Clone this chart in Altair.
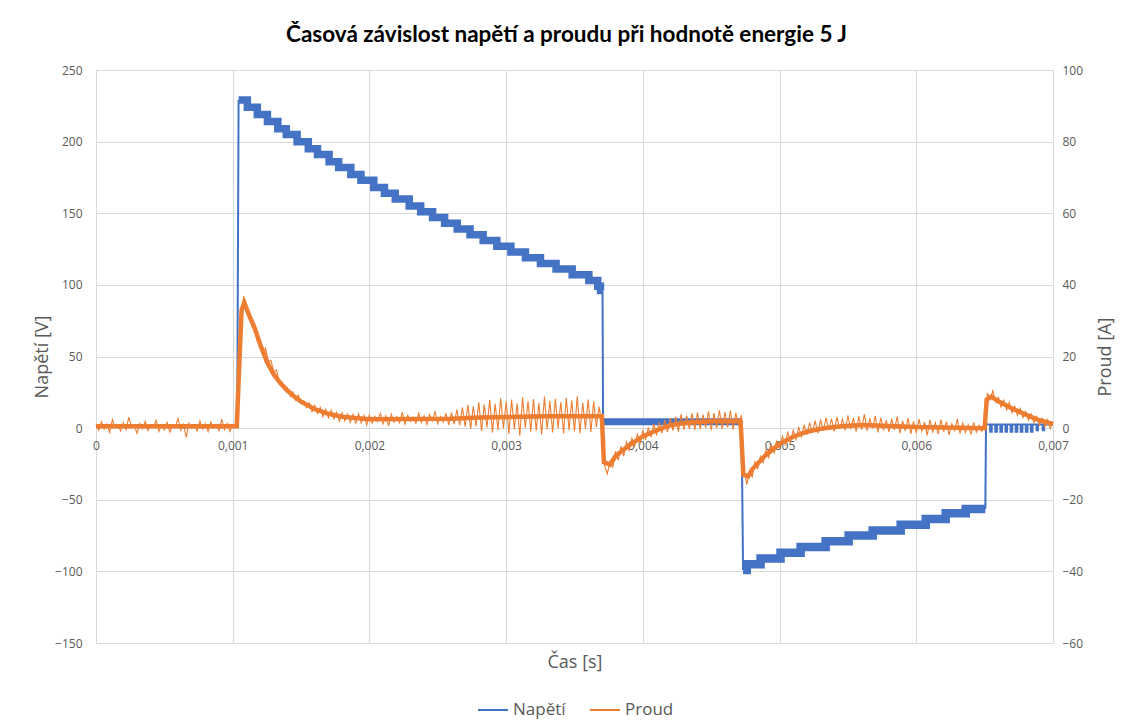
import altair as alt
import pandas as pd

TITLE = "Časová závislost napětí a proudu při hodnotě energie 5 J"
SERIES = ["Napětí", "Proud"]
COLORS = ["#4472C4", "#ED7D31"]
X_TICKS = [0, 0.001, 0.002, 0.003, 0.004, 0.005, 0.006, 0.007]
V_TICKS = [-150, -100, -50, 0, 50, 100, 150, 200, 250]
I_TICKS = [-60, -40, -20, 0, 20, 40, 60, 80, 100]

# ---- Napětí (voltage), times in ms, values in V ----
# thin (linear) pieces
BASE_T = [0.0, 0.64, 0.645, 0.655, 0.66, 1.033, 1.043]
BASE_V = [2.0, 2.0, 0.3, 0.3, 2.0, 2.0, 229.0]
DROP1_T = [3.705, 3.709]
DROP1_V = [96.0, 4.5]
DROP2_T = [4.722, 4.733]
DROP2_V = [4.5, -99.0]
RISE_T = [6.505, 6.510]
RISE_V = [-56.5, 2.5]
TAIL_T = [6.510,
          6.540, 6.540, 6.552, 6.552,
          6.578, 6.578, 6.590, 6.590,
          6.615, 6.615, 6.627, 6.627,
          6.652, 6.652, 6.664, 6.664,
          6.690, 6.690, 6.702, 6.702,
          6.727, 6.727, 6.739, 6.739,
          6.764, 6.764, 6.776, 6.776,
          6.801, 6.801, 6.813, 6.813,
          6.838, 6.838, 6.850, 6.850,
          6.880, 6.880, 6.890, 6.890,
          6.925, 6.925, 6.935, 6.935,
          7.000]
TAIL_V = [2.5,
          2.5, -2.5, -2.5, 2.5,
          2.5, -2.5, -2.5, 2.5,
          2.5, -2.5, -2.5, 2.5,
          2.5, -2.5, -2.5, 2.5,
          2.5, -2.5, -2.5, 2.5,
          2.5, -2.5, -2.5, 2.5,
          2.5, -2.5, -2.5, 2.5,
          2.5, -2.5, -2.5, 2.5,
          2.5, -2.5, -2.5, 2.5,
          2.5, -1.5, -1.5, 2.5,
          2.5, -1.5, -1.5, 2.5,
          2.5]
# thick (stepped) pieces
STAIR1_T = [1.043, 1.107, 1.180, 1.254, 1.330, 1.392, 1.471, 1.553, 1.620, 1.705,
            1.775, 1.864, 1.938, 2.032, 2.110, 2.189, 2.291, 2.375, 2.462, 2.550,
            2.642, 2.736, 2.832, 2.932, 3.035, 3.141, 3.251, 3.365, 3.483, 3.605,
            3.670, 3.690, 3.705]
STAIR1_V = [229, 224, 219, 214, 209, 205, 200, 195, 191, 186,
            182, 177, 173, 168, 164, 160, 155, 151, 147, 143,
            139, 135, 131, 127, 123, 119, 115, 111, 107, 103,
            99, 96, 96]
BAND_T = [3.709, 4.722]
BAND_V = [4.5, 4.5]
STAIR2_T = [4.733, 4.760, 4.861, 5.007, 5.154, 5.337, 5.505, 5.681, 5.886, 6.069,
            6.215, 6.362, 6.505]
STAIR2_V = [-99, -95, -91, -87, -83, -79, -75, -71.5, -67.5, -63.5,
            -59.5, -56.5, -56.5]

# ---- Proud (current) ----
# centre of the dense noise band (ms, A)
CORE_T = [0.0, 1.03, 1.045, 1.065, 1.085, 1.12, 1.16, 1.20, 1.25, 1.30,
          1.35, 1.40, 1.45, 1.50, 1.60, 1.70, 1.80, 1.90, 2.00, 2.60,
          2.80, 3.30, 3.700, 3.715, 3.76, 3.80, 3.90, 4.00, 4.10, 4.20,
          4.30, 4.50, 4.715, 4.735, 4.77, 4.80, 4.90, 5.00, 5.10, 5.20,
          5.30, 5.45, 5.60, 5.80, 6.00, 6.20, 6.500, 6.515, 6.55, 6.60,
          6.70, 6.80, 6.90, 7.00]
CORE_A = [0.5, 0.5, 15.0, 33.0, 35.0, 31.5, 28.0, 23.5, 18.5, 15.0,
          12.5, 10.5, 8.8, 7.4, 5.3, 4.0, 3.2, 2.8, 2.5, 2.6,
          3.0, 3.3, 3.3, -9.5, -10.2, -7.8, -4.8, -2.3, -0.6, 0.8,
          1.4, 1.9, 2.0, -13.0, -13.5, -11.5, -7.5, -4.4, -2.4, -1.0,
          -0.2, 0.5, 0.9, 0.6, 0.3, 0.2, 0.0, 8.0, 8.8, 7.5,
          5.5, 3.8, 2.2, 1.2]
# raw noisy samples, every 0.02 ms from 0 to 7 ms
CURRENT_STEP_MS = 0.02
CURRENT_A = [
    1.2, -0.6, 1.8, -0.3, 1.1, -1.2, 2.4, 0.2, 0.9, -0.8,
    1.5, -0.4, 3.1, 0.1, 0.7, -1.5, 1.3, -0.2, 1.9, -0.7,
    0.8, 0.3, 2.2, -0.9, 1.0, -0.5, 1.6, -1.1, 0.6, 0.4,
    2.7, -0.6, 1.1, -2.6, 1.4, -0.1, 0.9, -0.8, 2.0, -0.3,
    1.2, -1.0, 1.7, 0.0, 0.8, -0.7, 2.5, -0.4, 1.3, -0.9,
    0.9, 0.5, 13.0, 30.5, 36.8, 32.2, 32.0, 28.4, 27.6, 24.3,
    23.8, 20.6, 22.3, 18.7, 18.9, 15.8, 16.2, 13.1, 12.9, 10.6,
    11.3, 8.9, 10.1, 7.8, 9.2, 6.9, 7.6, 5.7, 7.1, 4.6,
    6.4, 4.1, 5.8, 3.2, 5.3, 2.9, 5.0, 2.6, 4.4, 1.9,
    4.3, 2.0, 3.9, 1.6, 3.8, 1.4, 4.0, 1.5, 3.5, 0.9,
    3.7, 1.4, 3.3, 1.8, 4.1, 1.2, 3.4, 0.6, 3.9, 1.7,
    3.2, 1.5, 4.4, 1.1, 3.6, 1.9, 3.0, 1.3, 4.2, 1.6,
    3.5, 1.0, 3.8, 2.0, 4.6, 1.2, 3.3, 1.7, 4.0, 0.9,
    4.3, 1.1, 5.2, 0.8, 5.8, 0.4, 6.5, -0.2, 6.1, 0.5,
    7.2, -0.8, 6.6, 0.2, 7.9, -1.3, 6.8, -0.5, 8.3, -0.1,
    7.4, -1.6, 8.0, -0.4, 6.9, -2.1, 8.6, 0.1, 7.5, -1.0,
    8.1, -0.7, 7.0, -1.8, 8.8, -0.3, 7.6, -1.2, 8.2, 0.0,
    7.3, -1.5, 8.5, -0.6, 7.8, -0.9, 8.9, -1.4, 7.1, -0.2,
    8.0, -1.1, 7.4, 0.3, 6.0, 1.2, -10.5, -12.8, -9.2, -10.9,
    -6.5, -9.0, -5.1, -7.8, -3.9, -6.2, -2.8, -5.0, -1.7, -4.1,
    -0.6, -3.3, 0.2, -2.5, 1.1, -2.0, 1.6, -1.4, 2.3, -1.1,
    2.8, -0.7, 3.2, -1.0, 3.9, -0.4, 3.5, -0.2, 4.1, -0.5,
    4.4, -0.3, 3.8, 0.1, 4.7, -0.6, 4.2, 0.0, 5.0, -0.2,
    4.5, 0.2, 4.9, -0.4, 4.3, 0.5, 3.6, -11.5, -15.8, -12.2,
    -13.6, -9.4, -11.3, -7.9, -9.6, -6.1, -8.2, -4.8, -6.9, -3.7,
    -5.5, -2.3, -4.6, -1.2, -3.8, -0.6, -3.1, 0.3, -2.4, 0.8,
    -1.9, 1.5, -1.2, 2.1, -1.5, 2.4, -0.8, 2.9, -0.5, 2.6,
    -0.9, 3.1, -0.2, 2.5, -0.6, 3.6, -0.3, 2.8, -1.0, 3.3,
    -0.4, 3.9, -0.7, 2.7, -0.1, 3.4, -1.2, 2.9, -0.6, 2.2,
    -1.1, 2.6, -0.5, 3.2, -1.4, 2.0, -0.8, 2.8, -1.6, 1.9,
    -1.3, 2.5, -0.9, 1.7, -2.0, 2.3, -1.1, 1.5, -1.7, 2.4,
    -1.0, 1.8, -1.9, 1.2, -0.7, 2.6, -1.5, 1.4, -1.2, 0.9,
    -1.8, 1.6, -1.1, 0.8, -0.9, 1.3, 9.8, 8.0, 10.4, 7.3,
    8.6, 5.9, 7.8, 5.1, 7.2, 4.3, 6.1, 3.6, 5.5, 2.9,
    4.6, 2.2, 4.0, 1.5, 3.3, 0.9, 2.8, 0.3, 2.4, -0.1,
    1.7,
]

# ---- build tables ----
def pieces(parts):
    rows = []
    k = 0
    for name, ts, vs, w in parts:
        for t, v in zip(ts, vs):
            rows.append({"t": t / 1000.0, "v": v, "seg": name, "w": w,
                         "idx": k, "series": SERIES[0]})
            k += 1
    return pd.DataFrame(rows)

thin_df = pieces([
    ("base", BASE_T, BASE_V, 2.0),
    ("drop1", DROP1_T, DROP1_V, 2.0),
    ("drop2", DROP2_T, DROP2_V, 2.0),
    ("rise", RISE_T, RISE_V, 2.0),
    ("tail", TAIL_T, TAIL_V, 2.0),
])
thick_df = pieces([
    ("stair1", STAIR1_T, STAIR1_V, 7.5),
    ("band", BAND_T, BAND_V, 7.0),
    ("stair2", STAIR2_T, STAIR2_V, 8.5),
])
core_df = pd.DataFrame({
    "t": [t / 1000.0 for t in CORE_T],
    "a": CORE_A,
    "series": SERIES[1],
})
cur_df = pd.DataFrame({
    "t": [i * CURRENT_STEP_MS / 1000.0 for i in range(len(CURRENT_A))],
    "a": CURRENT_A,
    "series": SERIES[1],
})

GRID = "#D9D9D9"
TXT = "#595959"
FONT = "Open Sans"
PLOT_W, PLOT_H = 957, 573

x_enc = alt.X(
    "t:Q",
    scale=alt.Scale(domain=[0, 0.007], nice=False, zero=False),
    axis=alt.Axis(
        values=X_TICKS, offset=-215, grid=True, gridColor=GRID,
        domainColor=GRID, ticks=False, labelFlush=False, labelOverlap=False,
        labelExpr="datum.value == 0 ? '0' : replace(format(datum.value, '.3f'), '.', ',')",
        labelFontSize=12, labelColor=TXT, labelFont=FONT, labelPadding=12,
        title="Čas [s]", titleY=234, titleBaseline="middle", titleFontSize=18,
        titleColor=TXT, titleFont=FONT, titleFontWeight="normal",
    ),
)

color_enc = alt.Color(
    "series:N",
    scale=alt.Scale(domain=SERIES, range=COLORS),
    legend=alt.Legend(
        title=None, orient="none", legendX=381, legendY=624, direction="horizontal",
        symbolType="stroke", symbolSize=900, symbolStrokeWidth=2,
        labelFontSize=17, labelColor=TXT, labelFont=FONT, labelOffset=4,
        columnPadding=20,
    ),
)

v_scale = alt.Scale(domain=[-150, 250], nice=False, zero=False)
v_axis = alt.Axis(
    values=V_TICKS, orient="left", grid=True, gridColor=GRID, domain=False,
    ticks=False, labelFontSize=12, labelColor=TXT, labelFont=FONT, labelPadding=14,
    labelFlush=False,
    title="Napětí [V]", titleX=-54, titleY=PLOT_H / 2, titleAngle=270,
    titleBaseline="middle", titleAlign="center", titleFontSize=18, titleColor=TXT,
    titleFont=FONT, titleFontWeight="normal",
)

thin = alt.Chart(thin_df).mark_line(strokeWidth=2, interpolate="linear").encode(
    x=x_enc,
    y=alt.Y("v:Q", scale=v_scale, axis=v_axis),
    color=color_enc,
    detail="seg:N",
    order="idx:Q",
)
thick = alt.Chart(thick_df).mark_line(
    interpolate="step-after", color=COLORS[0]
).encode(
    x=x_enc,
    y=alt.Y("v:Q", scale=v_scale, axis=v_axis),
    detail="seg:N",
    strokeWidth=alt.StrokeWidth("w:Q", scale=None, legend=None),
    order="idx:Q",
)
voltage = alt.layer(thin, thick)

i_scale = alt.Scale(domain=[-60, 100], nice=False, zero=False)
i_axis = alt.Axis(
    values=I_TICKS, orient="right", grid=False, domain=False, ticks=False,
    labelFontSize=12, labelColor=TXT, labelFont=FONT, labelPadding=9,
    labelFlush=False,
    title="Proud [A]", titleX=52, titleY=PLOT_H / 2, titleAngle=270,
    titleBaseline="middle", titleAlign="center", titleFontSize=18,
    titleColor=TXT, titleFont=FONT, titleFontWeight="normal",
)
core = alt.Chart(core_df).mark_line(strokeWidth=4.5, color=COLORS[1]).encode(
    x=x_enc,
    y=alt.Y("a:Q", scale=i_scale, axis=i_axis),
)
noisy = alt.Chart(cur_df).mark_line(strokeWidth=1.1).encode(
    x=x_enc,
    y=alt.Y("a:Q", scale=i_scale, axis=i_axis),
    color=color_enc,
)
current = alt.layer(core, noisy)

chart = alt.layer(voltage, current).resolve_scale(y="independent").properties(
    width=PLOT_W,
    height=PLOT_H,
    title=alt.TitleParams(
        TITLE, fontSize=22.5, font="Lato", fontWeight="bold", color="#000000",
        anchor="middle", dx=-8, offset=7, baseline="middle",
    ),
    autosize=alt.AutoSizeParams(type="none"),
    padding={"left": 88, "top": 62, "right": 70, "bottom": 76},
).configure_view(stroke=None).configure(background="white")

chart.save("out.html", embed_options={"renderer": "svg", "actions": False})
